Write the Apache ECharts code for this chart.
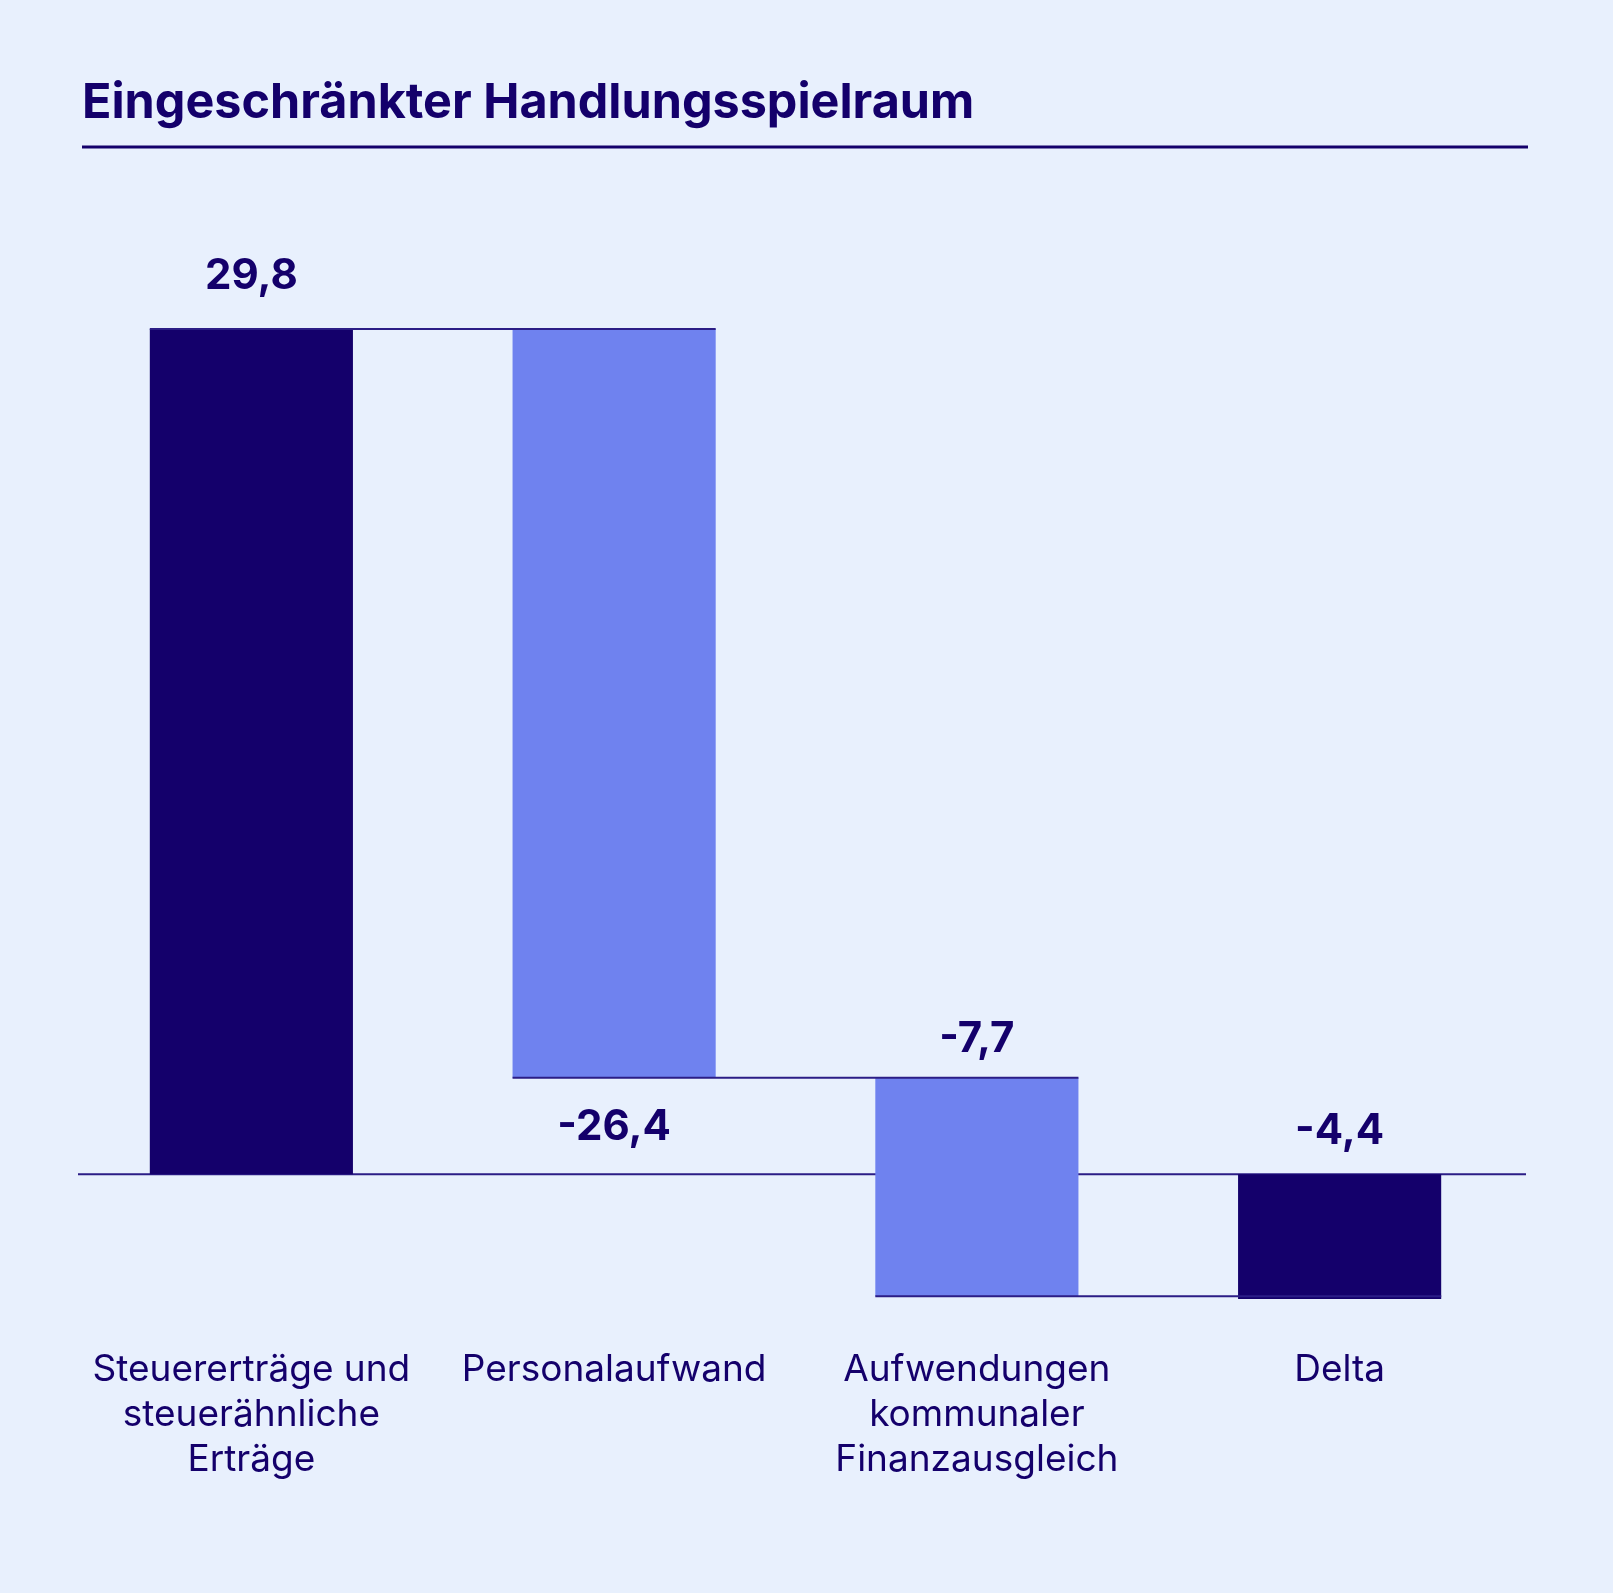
<!DOCTYPE html>
<html><head><meta charset="utf-8">
<script src="https://cdn.jsdelivr.net/npm/echarts@6/dist/echarts.min.js"></script>
<style>html,body{margin:0;padding:0;background:#e8f0fd;} #c{width:1613px;height:1593px;}</style>
</head><body><div id="c"></div>
<script>
// ---- data ----
const categories = ['Steuererträge und\nsteuerähnliche\nErträge', 'Personalaufwand', 'Aufwendungen\nkommunaler\nFinanzausgleich', 'Delta'];
const values = [29.8, -26.4, -7.7, -4.4];
const isTotal = [true, false, false, true];
const baseline = [0];

// ---- style ----
const DARK = '#14006b', LIGHT = '#6f82ef', LINE = '#2b1d86', BG = '#e8f0fd';
const barColors = [DARK, LIGHT, LIGHT, DARK];
const labelSide = ['top', 'bottom', 'top', 'top'];
const labelGap = [53, 50, 38, 43];
const FONT = 'Inter';

// ---- waterfall build ----
let running = 0;
const rows = [];
values.forEach((v, i) => {
  const s = isTotal[i] ? 0 : running;
  const e = s + v;
  running = e;
  rows.push([i, s, e, v]);
});
const connectors = rows.slice(0, -1).map((r, i) => [i, r[2]]);
const fmt = v => v.toFixed(1).replace('.', ',');

const chart = echarts.init(document.getElementById('c'));
chart.setOption({
  backgroundColor: BG,
  animation: false,
  title: {
    text: 'Eingeschränkter Handlungsspielraum', left: 82, top: 79, padding: 0,
    textStyle: { fontFamily: FONT, fontWeight: 'bold', fontSize: 48.5, color: DARK }
  },
  graphic: [{ type: 'line', shape: { x1: 82, y1: 147, x2: 1528, y2: 147 }, style: { stroke: DARK, lineWidth: 3 } }],
  grid: { left: 70, right: 92, top: 295, height: 1021, outerBoundsMode: 'none', containLabel: false },
  xAxis: {
    type: 'category', data: categories,
    axisLine: { show: false },
    axisTick: { show: false },
    axisLabel: { interval: 0, margin: 31, fontSize: 37, lineHeight: 45, color: DARK, fontFamily: FONT, verticalAlign: 'top' }
  },
  yAxis: {
    type: 'value', min: -5, max: 31,
    axisLine: { show: false }, axisTick: { show: false }, axisLabel: { show: false }, splitLine: { show: false }
  },
  series: [
    {
      type: 'custom', data: baseline, encode: { y: 0 }, z: 1,
      renderItem: (params, api) => {
        const y = api.coord([0, api.value(0)])[1];
        return { type: 'line', shape: { x1: 78, y1: y, x2: 1526, y2: y }, style: { stroke: LINE, lineWidth: 2 } };
      }
    },
    {
      type: 'custom', data: rows, encode: { x: 0, y: [1, 2] }, z: 2,
      renderItem: (params, api) => {
        const i = api.value(0), s = api.value(1), e = api.value(2), v = api.value(3);
        const bw = api.size([1, 0])[0] * 0.56;
        const p1 = api.coord([i, Math.max(s, e)]);
        const p2 = api.coord([i, Math.min(s, e)]);
        const top = p1[1], bot = p2[1];
        const ty = labelSide[i] === 'top' ? top - labelGap[i] : bot + labelGap[i];
        return {
          type: 'group', children: [
            { type: 'rect', shape: { x: p1[0] - bw / 2, y: top, width: bw, height: bot - top }, style: { fill: barColors[i] } },
            { type: 'text', x: p1[0], y: ty, style: { text: fmt(v), fill: DARK, font: 'bold 42px ' + FONT, align: 'center', verticalAlign: 'middle' } }
          ]
        };
      }
    },
    {
      type: 'custom', data: connectors, encode: { x: 0, y: 1 }, z: 3,
      renderItem: (params, api) => {
        const i = api.value(0), lvl = api.value(1);
        const bw = api.size([1, 0])[0] * 0.56;
        const a = api.coord([i, lvl]), b = api.coord([i + 1, lvl]);
        return { type: 'line', shape: { x1: a[0] - bw / 2, y1: a[1], x2: b[0] + bw / 2, y2: b[1] }, style: { stroke: LINE, lineWidth: 2 } };
      }
    }
  ]
});
</script></body></html>
